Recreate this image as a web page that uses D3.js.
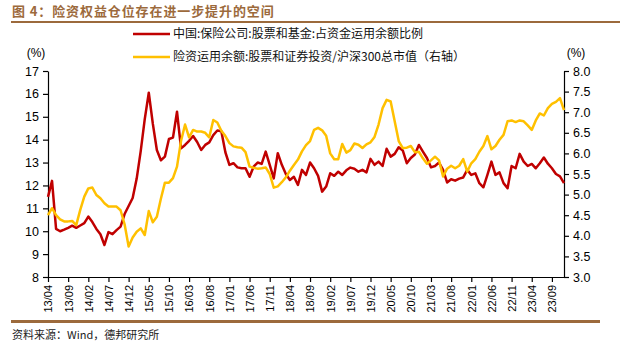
<!DOCTYPE html>
<html>
<head>
<meta charset="utf-8">
<script src="https://cdn.jsdelivr.net/npm/d3@7"></script>
<style>
  body { margin: 0; background: #fff; }
  svg { display: block; }
  text { font-family: "Liberation Sans", Arial, sans-serif; }
  .cjk { font-family: "Noto Sans CJK SC", sans-serif; }
</style>
</head>
<body>
<div id="chart"></div>
<script>
//chart data - monthly, 13/04 to 23/12
var startYear = 2013, startMonth = 4, monthCount = 129;

//tick labels on the bottom axis (every 5 months)
var tickLabels = ["13/04","13/09","14/02","14/07","14/12","15/05","15/10","16/03","16/08","17/01",
  "17/06","17/11","18/04","18/09","19/02","19/07","19/12","20/05","20/10","21/03","21/08",
  "22/01","22/06","22/11","23/04","23/09"];

var leftTicks = [8, 9, 10, 11, 12, 13, 14, 15, 16, 17];
var rightTicks = [3.0, 3.5, 4.0, 4.5, 5.0, 5.5, 6.0, 6.5, 7.0, 7.5, 8.0];

//中国:保险公司:股票和基金:占资金运用余额比例 (left axis)
var stockFundRatio = [11.5, 12.2, 10.1, 10.0, 10.07, 10.15, 10.24, 10.15, 10.25, 10.35,
  10.64, 10.4, 10.1, 9.87, 9.4, 9.96, 9.87, 10.05, 10.2, 10.75,
  11.1, 11.45, 12.3, 13.5, 14.9, 16.05, 14.7, 13.55, 13.1, 13.26,
  14.03, 14.09, 15.22, 13.62, 13.77, 13.95, 14.16, 13.9, 13.55, 13.77,
  13.88, 14.2, 14.4, 14.37, 13.45, 12.9, 12.97, 12.79, 12.75, 12.75,
  12.38, 12.82, 13.0, 12.94, 13.48, 12.9, 12.31, 13.41, 12.9, 12.5,
  12.24, 12.38, 12.02, 12.68, 12.46, 13.0, 12.75, 12.42, 11.73, 11.95,
  12.53, 12.42, 12.6, 12.46, 12.66, 12.78, 12.73, 12.6, 12.68, 12.57,
  13.16, 12.9, 13.04, 12.85, 13.6, 13.26, 13.38, 13.67, 13.53, 12.97,
  13.2, 13.35, 13.77, 13.48, 13.2, 12.79, 12.85, 13.0, 12.68, 12.13,
  12.27, 12.21, 12.3, 12.35, 12.68, 12.46, 12.53, 12.1, 11.92, 12.46,
  13.04, 12.46, 12.57, 12.1, 11.88, 12.85, 12.75, 13.38, 13.04, 12.85,
  12.94, 12.75, 12.97, 13.22, 12.95, 12.75, 12.5, 12.4, 12.1];

//险资运用余额:股票和证券投资/沪深300总市值 (right axis)
var insurerToCsi300 = [4.5, 4.67, 4.5, 4.4, 4.35, 4.35, 4.36, 4.26, 4.63, 4.95,
  5.15, 5.17, 4.99, 4.91, 4.79, 4.71, 4.71, 4.71, 4.62, 4.28,
  3.74, 3.96, 4.1, 4.18, 4.02, 4.6, 4.33, 4.46, 4.9, 5.29,
  5.29, 5.4, 5.68, 6.3, 6.7, 6.39, 6.57, 6.53, 6.53, 6.5,
  6.39, 6.81, 6.75, 6.55, 6.42, 6.25, 6.17, 6.15, 6.14, 6.03,
  5.68, 5.65, 5.63, 5.64, 5.66, 5.5, 5.17, 5.2, 5.3, 5.42,
  5.58, 5.72, 5.85, 6.05, 6.2, 6.3, 6.57, 6.62, 6.56, 6.43,
  6.0, 5.86, 5.86, 6.23, 6.02, 6.08, 6.24, 6.21, 6.13, 6.22,
  6.27, 6.4, 6.7, 7.1, 7.3, 7.26, 6.78, 6.3, 6.13, 6.14,
  6.18, 6.03, 6.04, 5.88, 5.75, 5.83, 5.92, 5.83, 5.44, 5.63,
  5.7, 5.64, 5.7, 5.86, 5.56, 5.76, 5.86, 6.04, 6.18, 6.42,
  6.1, 6.18, 6.33, 6.45, 6.78, 6.8, 6.76, 6.8, 6.78, 6.68,
  6.57, 6.8, 6.97, 6.92, 7.1, 7.2, 7.25, 7.34, 7.05];

//month keys like "13/04"
var months = [];
for (var k = 0; k < monthCount; k++) {
  var m = (startMonth - 1 + k) % 12 + 1;
  var y = startYear + Math.floor((startMonth - 1 + k) / 12);
  months.push(String(y).slice(-2) + "/" + ("0" + m).slice(-2));
}

var width = 620, height = 345;
var plot = { left: 48, right: 564, top: 71, bottom: 277 };
var brown = "#9C6A3C";
var red = "#C00000", yellow = "#FFC000";

var svg = d3.select("#chart").append("svg")
  .attr("width", width)
  .attr("height", height);

//title + rules
svg.append("text").attr("class", "cjk")
  .attr("x", 12).attr("y", 15.5)
  .attr("font-size", 13).attr("font-weight", "bold")
  .attr("fill", brown).attr("letter-spacing", 0.9)
  .text("图 4：险资权益仓位存在进一步提升的空间");
svg.append("rect").attr("x", 11).attr("y", 21).attr("width", 609).attr("height", 2).attr("fill", brown);
svg.append("rect").attr("x", 11).attr("y", 320).attr("width", 589).attr("height", 3).attr("fill", brown);

svg.append("text").attr("class", "cjk")
  .attr("x", 12).attr("y", 339)
  .attr("font-size", 11).attr("fill", "#222")
  .text("资料来源：Wind，德邦研究所");

//scales
var x = d3.scalePoint().domain(months).range([plot.left, plot.right]);
var yLeft = d3.scaleLinear().domain([8, 17]).range([plot.bottom, plot.top]);
var yRight = d3.scaleLinear().domain([3, 8]).range([plot.bottom, plot.top]);

//axes
var gx = svg.append("g").attr("transform", `translate(0,${plot.bottom})`)
  .call(d3.axisBottom(x).tickValues(tickLabels).tickSize(5).tickSizeOuter(0));
gx.selectAll("text")
  .attr("font-size", 11)
  .attr("transform", "rotate(-90)")
  .attr("text-anchor", "end")
  .attr("x", -8).attr("y", 0).attr("dy", "0.35em");

var gl = svg.append("g").attr("transform", `translate(${plot.left},0)`)
  .call(d3.axisLeft(yLeft).tickValues(leftTicks).tickSize(5).tickSizeOuter(0).tickPadding(4));
gl.selectAll("text").attr("font-size", 12.5);

var gr = svg.append("g").attr("transform", `translate(${plot.right},0)`)
  .call(d3.axisRight(yRight).tickValues(rightTicks).tickFormat(d3.format(".1f")).tickSize(5).tickSizeOuter(0).tickPadding(4));
gr.selectAll("text").attr("font-size", 12.5);

[gx, gl, gr].forEach(function(g) {
  g.selectAll("path, line").attr("stroke", "#000").attr("stroke-width", 1.2);
  g.selectAll("text").attr("fill", "#000");
});

//unit labels
svg.append("text").attr("x", 36).attr("y", 57).attr("text-anchor", "middle")
  .attr("font-size", 12).text("(%)");
svg.append("text").attr("x", 576).attr("y", 57).attr("text-anchor", "middle")
  .attr("font-size", 12).text("(%)");

//lines
var lineL = d3.line().x(function(d, i) { return x(months[i]); }).y(function(d) { return yLeft(d); });
var lineR = d3.line().x(function(d, i) { return x(months[i]); }).y(function(d) { return yRight(d); });

svg.append("path").datum(stockFundRatio)
  .attr("d", lineL).attr("fill", "none")
  .attr("stroke", red).attr("stroke-width", 2.5).attr("stroke-linejoin", "round");
svg.append("path").datum(insurerToCsi300)
  .attr("d", lineR).attr("fill", "none")
  .attr("stroke", yellow).attr("stroke-width", 2.5).attr("stroke-linejoin", "round");

//legend
var legend = [
  { name: "中国:保险公司:股票和基金:占资金运用余额比例", color: red, y: 34 },
  { name: "险资运用余额:股票和证券投资/沪深300总市值（右轴）", color: yellow, y: 57 }
];
var lg = svg.selectAll(".lg").data(legend).join("g").attr("class", "lg");
lg.append("line")
  .attr("x1", 133).attr("x2", 170)
  .attr("y1", function(d) { return d.y; }).attr("y2", function(d) { return d.y; })
  .attr("stroke", function(d) { return d.color; }).attr("stroke-width", 2.5);
lg.append("text").attr("class", "cjk")
  .attr("x", 173).attr("y", function(d) { return d.y; }).attr("dy", "0.35em")
  .attr("font-size", 12).attr("fill", "#111")
  .text(function(d) { return d.name; });
</script>
</body>
</html>
